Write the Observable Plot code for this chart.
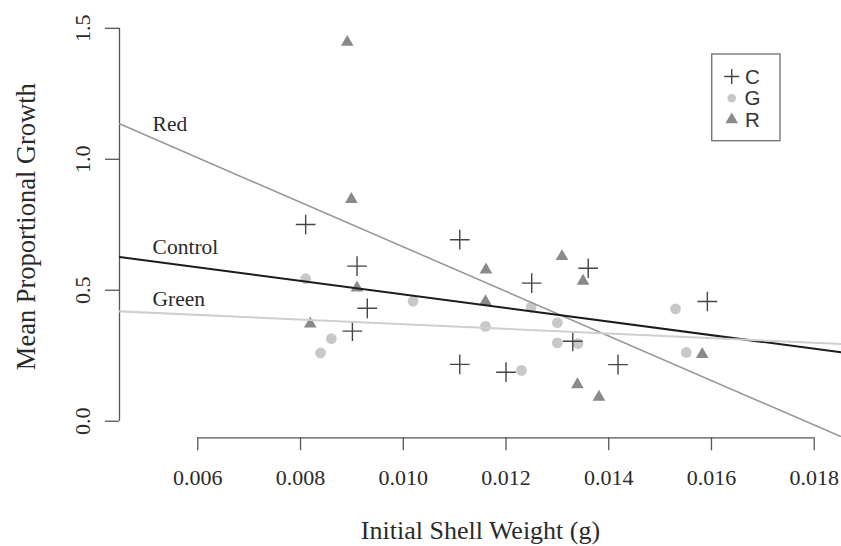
<!DOCTYPE html>
<html>
<head>
<meta charset="utf-8">
<script src="https://cdn.jsdelivr.net/npm/d3@7"></script>
<script src="https://cdn.jsdelivr.net/npm/@observablehq/plot@0.6"></script>
<style>
  html, body { margin: 0; padding: 0; background: #fff; }
  #chart { width: 841px; height: 546px; }
</style>
</head>
<body>
<div id="chart"></div>
<script>
// ---- data ----
const xTicks = [0.006, 0.008, 0.010, 0.012, 0.014, 0.016, 0.018];
const yTicks = [0.0, 0.5, 1.0, 1.5];

// Control (C) – crosses
const cX = [0.00810, 0.00910, 0.00930, 0.00901, 0.01110, 0.01250, 0.01360, 0.01330, 0.01110, 0.01200, 0.01418, 0.01592];
const cY = [0.751, 0.592, 0.431, 0.344, 0.693, 0.527, 0.584, 0.305, 0.217, 0.187, 0.216, 0.457];
// Green (G) – circles
const gX = [0.00810, 0.01019, 0.00860, 0.00839, 0.01249, 0.01300, 0.01160, 0.01300, 0.01340, 0.01230, 0.01530, 0.01551];
const gY = [0.544, 0.458, 0.315, 0.261, 0.435, 0.376, 0.362, 0.299, 0.296, 0.194, 0.429, 0.263];
// Red (R) – triangles
const rX = [0.00891, 0.00899, 0.00910, 0.00819, 0.01309, 0.01161, 0.01350, 0.01160, 0.01339, 0.01381, 0.01582];
const rY = [1.447, 0.847, 0.509, 0.372, 0.629, 0.578, 0.535, 0.457, 0.140, 0.092, 0.255];

// fitted lines: y = a + b*x
const lineNames = ["Red", "Control", "Green"];
const lineIntercepts = [1.516, 0.743, 0.459];
const lineSlopes = [-85.04, -25.9, -8.87];

const legendKeys = ["C", "G", "R"];

// ---- build tables ----
const points = [
  ...cX.map((x, i) => ({group: "C", x, y: cY[i]})),
  ...gX.map((x, i) => ({group: "G", x, y: gY[i]})),
  ...rX.map((x, i) => ({group: "R", x, y: rY[i]}))
];

const xDomain = [0.004476, 0.018531];
const yDomain = [-0.0634, 1.549];

const lineStyle = {
  Red: {stroke: "#999999", strokeWidth: 1.6},
  Control: {stroke: "#1c1c1c", strokeWidth: 2.1},
  Green: {stroke: "#cfcfcf", strokeWidth: 2.1}
};
const lines = lineNames.map((name, i) => ({
  name,
  pts: xDomain.map(x => ({x, y: lineIntercepts[i] + lineSlopes[i] * x}))
}));
const labelX = 0.00512;
const labels = lineNames.map((name, i) => ({name, x: labelX, y: lineIntercepts[i] + lineSlopes[i] * labelX}));

const serif = "'Liberation Serif', 'Times New Roman', serif";
const axisColor = "#555";
const textColor = "#2a2a2a";

const plot = Plot.plot({
  width: 841,
  height: 546,
  marginLeft: 119,
  marginRight: 0,
  marginTop: 15,
  marginBottom: 108.7,
  x: {domain: xDomain},
  y: {domain: yDomain},
  style: {fontFamily: serif, background: "#fff", overflow: "visible"},
  marks: [
    // axis lines between first and last tick (R style)
    Plot.ruleX([xDomain[0]], {y1: d3.min(yTicks), y2: d3.max(yTicks), stroke: axisColor, strokeWidth: 1.3}),
    Plot.ruleY([yDomain[0]], {x1: d3.min(xTicks), x2: d3.max(xTicks), stroke: axisColor, strokeWidth: 1.3}),
    Plot.axisY({ticks: yTicks, tickSize: 14, fill: "none", stroke: axisColor, strokeWidth: 1.3, label: null}),
    Plot.text(yTicks, {
      x: () => xDomain[0], y: d => d, text: d => d.toFixed(1),
      rotate: -90, dx: -37, fontSize: 22, fill: textColor, textAnchor: "middle", lineAnchor: "middle"
    }),
    Plot.axisX({
      ticks: xTicks, tickSize: 13, tickPadding: 19, tickFormat: d3.format(".3f"),
      fontSize: 22, fill: textColor, stroke: axisColor, strokeWidth: 1.3, label: null
    }),
    // axis titles
    Plot.text(["Initial Shell Weight (g)"], {
      frameAnchor: "bottom", dy: 93, text: d => d, fontSize: 26, fill: textColor,
      textAnchor: "middle", lineAnchor: "middle"
    }),
    Plot.text(["Mean Proportional Growth"], {
      frameAnchor: "left", dx: -93, rotate: -90, text: d => d, fontSize: 26.5, fill: textColor,
      textAnchor: "middle", lineAnchor: "middle"
    }),
    // points
    Plot.dot(points.filter(d => d.group === "G"), {x: "x", y: "y", symbol: "circle", r: 5.4, fill: "#c8c8c8", stroke: "none"}),
    Plot.dot(points.filter(d => d.group === "R"), {x: "x", y: "y", symbol: "triangle", r: 4.7, fill: "#8a8a8a", stroke: "none"}),
    Plot.dot(points.filter(d => d.group === "C"), {x: "x", y: "y", symbol: "plus", r: 6.4, stroke: "#454545", strokeWidth: 1.4, fill: "none"}),
    // fitted lines
    ...lines.map(l => Plot.line(l.pts, {x: "x", y: "y", ...lineStyle[l.name], clip: true})),
    // line labels
    Plot.text(labels, {x: "x", y: "y", text: "name", dy: -14, textAnchor: "start", fontSize: 21.5, fill: textColor, lineAnchor: "middle"})
  ]
});

// legend drawn inside the plot area (top right)
const svg = d3.select(plot);
const lg = svg.append("g").attr("class", "legend");
lg.append("rect")
  .attr("x", 711.7).attr("y", 54).attr("width", 68.3).attr("height", 86.7)
  .attr("fill", "#fff").attr("stroke", "#777").attr("stroke-width", 1.4);
const legendSym = {
  C: {type: d3.symbolPlus, size: 75, fill: "none", stroke: "#454545", sw: 1.4},
  G: {type: d3.symbolCircle, size: Math.PI * 4.3 * 4.3, fill: "#c8c8c8", stroke: "none", sw: 0},
  R: {type: d3.symbolTriangle, size: Math.PI * 4.7 * 4.7, fill: "#8a8a8a", stroke: "none", sw: 0}
};
legendKeys.forEach((k, i) => {
  const cy = 76.5 + i * 21.6;
  const s = legendSym[k];
  lg.append("path")
    .attr("transform", `translate(731.7,${cy})`)
    .attr("d", d3.symbol(s.type, s.size)())
    .attr("fill", s.fill).attr("stroke", s.stroke).attr("stroke-width", s.sw);
  lg.append("text")
    .attr("x", 752.5).attr("y", cy).attr("dy", "0.36em")
    .attr("font-family", "'Liberation Sans', Arial, sans-serif")
    .attr("font-size", 20.5).attr("fill", "#333")
    .text(k);
});

document.getElementById("chart").appendChild(plot);
</script>
</body>
</html>
